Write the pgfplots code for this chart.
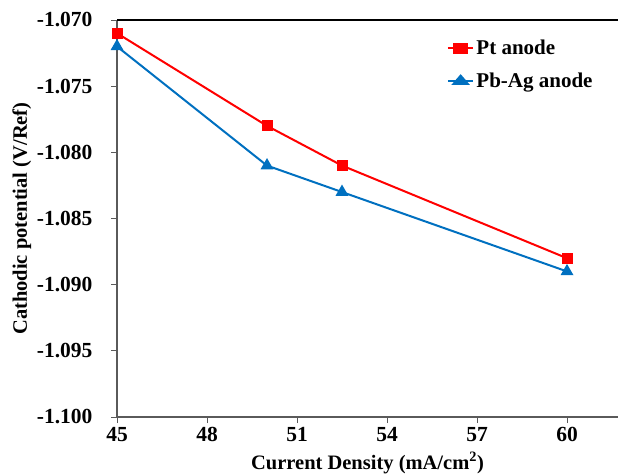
\documentclass[border=0pt]{standalone}
\usepackage{fontspec}
\setmainfont{Liberation Serif}
\usepackage{pgfplots}
\pgfplotsset{compat=1.18}
\definecolor{ptred}{RGB}{255,0,0}
\definecolor{pbblue}{RGB}{0,112,192}
\definecolor{axgrey}{RGB}{90,90,90}

\begin{document}
\begin{tikzpicture}[x=1pt,y=1pt]
\useasboundingbox (0,0) rectangle (618,474);
\begin{axis}[
    at={(117pt,57pt)}, anchor=south west,
    scale only axis,
    width=501pt, height=397pt,
    xmin=45, xmax=61.7,
    ymin=-1.100, ymax=-1.070,
    xtick={45,48,51,54,57,60},
    ytick={-1.100,-1.095,-1.090,-1.085,-1.080,-1.075,-1.070},
    axis lines=left,
    axis line style={-, axgrey, line width=2.5pt},
    tick style={axgrey, line width=0.8pt},
    tick align=outside,
    major tick length=6pt,
    xtick pos=bottom, ytick pos=left,
    /pgf/number format/assume math mode=true,
    ticklabel style={font=\fontsize{21.5}{24}\selectfont\bfseries},
    yticklabel style={xshift=-15pt, /pgf/number format/.cd, fixed, fixed zerofill, precision=3},
    xticklabel style={yshift=-1pt},
    xlabel={Current Density (mA/cm\textsuperscript{2})},
    ylabel={Cathodic potential (V/Ref)},
    label style={font=\fontsize{20.5}{22}\selectfont\bfseries},
    xlabel style={at={(rel axis cs:0.5,0)}, anchor=center, yshift=-46pt},
    ylabel style={at={(axis description cs:-0.19,0.5)}, anchor=center},
    legend style={draw=none, fill=none, at={(rel axis cs:0.652,0.96)}, anchor=north west,
        font=\fontsize{21}{23}\selectfont\bfseries, row sep=13pt},
    legend cell align=left,
    legend image post style={xscale=1.5},
    clip=false,
]
\addplot[ptred, line width=2pt, mark=square*, mark size=4.5pt] coordinates {
    (45,-1.071) (50,-1.078) (52.5,-1.081) (60,-1.088)
};
\addlegendentry{Pt anode}
\addplot[pbblue, line width=2pt, mark=triangle*, mark size=5.5pt] coordinates {
    (45,-1.072) (50,-1.081) (52.5,-1.083) (60,-1.089)
};
\addlegendentry{Pb-Ag anode}
\draw[black, line width=2.5pt] (rel axis cs:0,1) -- (rel axis cs:1,1);
\end{axis}
\end{tikzpicture}
\end{document}
